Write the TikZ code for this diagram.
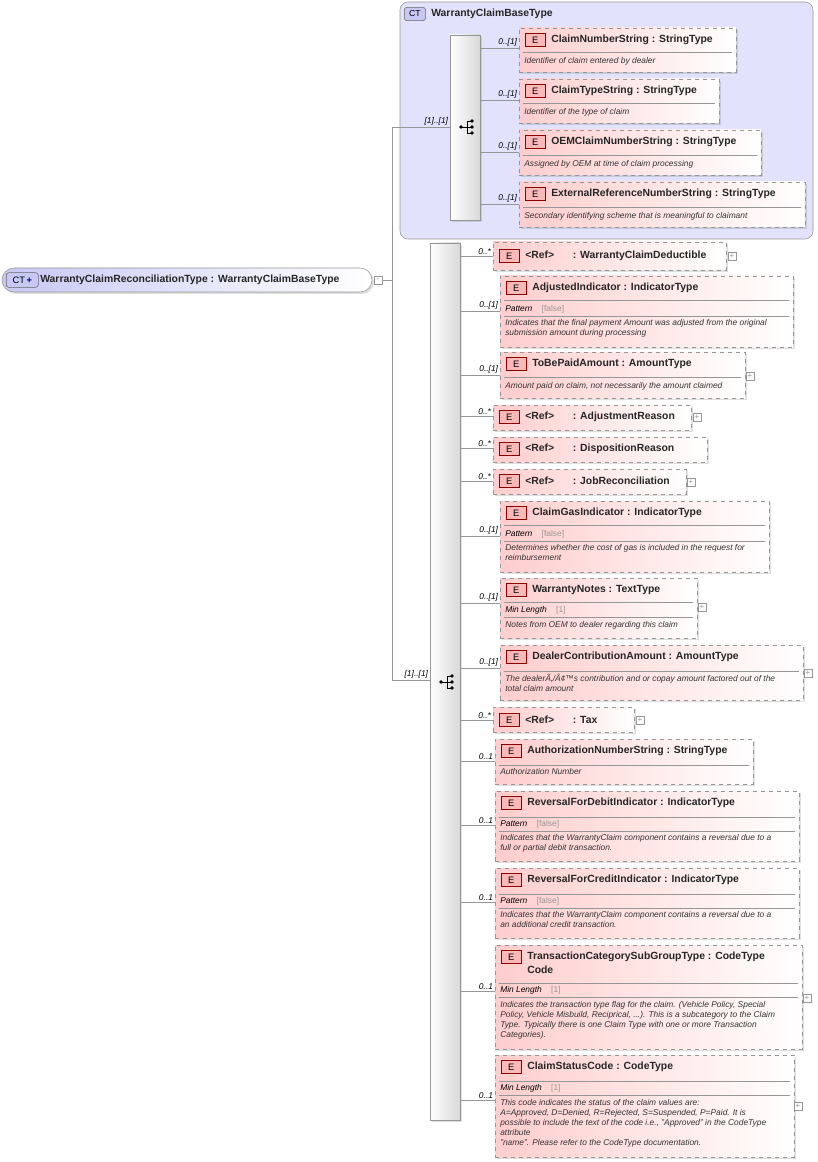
\documentclass[tikz,border=0pt]{standalone}
\usepackage{fontspec}
\setmainfont{Liberation Sans}
\usetikzlibrary{fit,shadows}
\definecolor{epink}{RGB}{255,205,205}
\definecolor{badgef}{RGB}{250,185,185}
\definecolor{lav}{RGB}{226,226,252}
\definecolor{lavd}{RGB}{200,200,245}
\definecolor{lgray}{RGB}{150,150,150}
\tikzset{
 ebox/.style={draw=lgray, dashed, left color=epink, right color=white, inner sep=0pt,
   drop shadow={opacity=0.25, shadow xshift=1.5pt, shadow yshift=-1.5pt}},
 badge/.style={anchor=west, draw=red!55!black, fill=badgef, minimum width=15pt, minimum height=10pt, inner sep=0pt, font=\fontsize{7}{8}\selectfont},
 t/.style={anchor=west, inner sep=0pt, font=\fontsize{7.8}{9}\selectfont\bfseries, text=black!85},
 d/.style={anchor=north west, inner sep=0pt, align=left, font=\fontsize{6.3}{7.6}\selectfont\itshape, text=black!80},
 lab/.style={anchor=south east, inner sep=1pt, font=\fontsize{6.3}{7}\selectfont\itshape},
 conn/.style={draw=lgray, line width=0.6pt},
 sepl/.style={draw=lgray, line width=0.5pt},
 seq/.style={draw=lgray, left color=white, right color=black!15, inner sep=0pt,
   drop shadow={opacity=0.25, shadow xshift=1.5pt, shadow yshift=-1.5pt}},
 pl/.style={draw=lgray, fill=white, minimum size=6pt, inner sep=0pt, font=\fontsize{6}{6}\selectfont, text=lgray},
}
\def\seqx{460}
\newcommand\el[9]{%
 \node[ebox,fit={(#2,#3)(#4,#5)}](#1){};
 \node[badge] (#1e) at (#2+6,#6) {E};
 \node[t] at (#2+32,#6) {#7};
 \coordinate (#1c) at (\seqx,#8);
 \draw[conn] (#1c) -- (#1c -| #1.west) node[lab,pos=1]{#9};}
\newcommand\sepr[2]{\draw[sepl] ([xshift=3pt]#1.west |- 0,#2) -- ([xshift=-3pt]#1.east |- 0,#2);}
\newcommand\facet[4]{\node[anchor=west,inner sep=0pt,font=\fontsize{6.3}{7}\selectfont\itshape] at (#1,#2) {#3\hspace{7pt}\upshape\textcolor{lgray}{[#4]}};}
\newcommand\desc[3]{\node[d] at (#1,#2-4) {#3};}
\newcommand\plusb[3]{\node[pl] (#1) at (#2,#3) {+};}
\newcommand\seqsym[3]{%
 \fill (#2-6,#3) circle (1.8);
 \draw[line width=0.6pt] (#2-6,#3) -- (#2,#3) (#2,#3-6) -- (#2,#3+6) (#2,#3-6) -- (#2+5,#3-6) (#2,#3) -- (#2+5,#3) (#2,#3+6) -- (#2+5,#3+6);
 \fill (#2+5,#3-6) circle (1.8) (#2+5,#3) circle (1.8) (#2+5,#3+6) circle (1.8);}
\begin{document}
\begin{tikzpicture}[x=0.75pt,y=-0.75pt]
\useasboundingbox (0,0) rectangle (817,1162);
% top complex type
\node[draw=lgray, fill=lav, rounded corners=6pt, inner sep=0pt, fit={(400,2)(813,239)}] (ct) {};
\node[draw=black!60, fill=lavd, rounded corners=2pt, anchor=west, minimum width=16pt, minimum height=10pt, inner sep=0pt, font=\fontsize{6.5}{7}\selectfont] (ctb) at (404,14) {CT};
\node[t] at (431,14) {WarrantyClaimBaseType};
\node[seq, fit={(450,35)(480,220)}] (s1) {};
\seqsym{s1}{467}{127}
% root
\node[draw=lgray, left color=lavd, right color=white, rounded corners=9pt, inner sep=0pt, fit={(2,268)(372,292)},
  drop shadow={opacity=0.25, shadow xshift=1.5pt, shadow yshift=-1.5pt}] (root) {};
\node[draw=black!60, fill=lavd, rounded corners=2pt, anchor=west, minimum width=24pt, minimum height=11pt, inner sep=0pt, font=\fontsize{7}{7}\selectfont] (rb) at (6,280) {CT\,\textcolor{blue!50!black}{\bfseries+}};
\node[t] at (40,280) {WarrantyClaimReconciliationType : WarrantyClaimBaseType};
\node[pl] (rm) at (378,280) {-};
\coordinate (j1) at (392,127);
\coordinate (j2) at (392,680);
\draw[conn] (rm.east) -- (rm.east -| j1) (j1) -- (j2);
\draw[conn] (j1) -- (j1 -| s1.west) node[lab,pos=1]{[1]..[1]};
% top children
\def\seqx{480}
\el{a1}{519}{28}{736}{72}{40}{ClaimNumberString : StringType}{48}{0..[1]}
\sepr{a1}{52}\desc{524}{61}{Identifier of claim entered by dealer}
\el{a2}{519}{79}{719}{123}{91}{ClaimTypeString : StringType}{100}{0..[1]}
\sepr{a2}{103}\desc{524}{112}{Identifier of the type of claim}
\el{a3}{519}{130}{761}{175}{142}{OEMClaimNumberString : StringType}{152}{0..[1]}
\sepr{a3}{155}\desc{524}{164}{Assigned by OEM at time of claim processing}
\el{a4}{519}{182}{805}{227}{194}{ExternalReferenceNumberString : StringType}{204}{0..[1]}
\sepr{a4}{207}\desc{524}{216}{Secondary identifying scheme that is meaningful to claimant}
% second sequence
\node[seq, fit={(430,243)(460,1120)}] (s2) {};
\seqsym{s2}{447}{682}
\draw[conn] (j2) -- (j2 -| s2.west) node[lab,pos=1]{[1]..[1]};
\def\seqx{460}
\el{b1}{493}{242}{726}{270}{256}{<Ref>\hspace{14pt}: WarrantyClaimDeductible}{256}{0..*}
\plusb{p1}{732}{256}
\el{b2}{500}{276}{793}{347}{288}{AdjustedIndicator : IndicatorType}{311}{0..[1]}
\sepr{b2}{300}\facet{505}{309}{Pattern}{false}\sepr{b2}{316}
\desc{505}{323}{Indicates that the final payment Amount was adjusted from the original\\submission amount during processing}
\el{b3}{500}{352}{745}{398}{364}{ToBePaidAmount : AmountType}{375}{0..[1]}
\sepr{b3}{377}\desc{505}{386}{Amount paid on claim, not necessarily the amount claimed}
\plusb{p3}{750}{376}
\el{b4}{493}{405}{691}{430}{417}{<Ref>\hspace{14pt}: AdjustmentReason}{416}{0..*}
\plusb{p4}{697}{417}
\el{b5}{493}{437}{707}{462}{449}{<Ref>\hspace{14pt}: DispositionReason}{448}{0..*}
\el{b6}{493}{469}{686}{494}{481}{<Ref>\hspace{14pt}: JobReconciliation}{481}{0..*}
\plusb{p6}{691}{482}
\el{b7}{500}{501}{769}{572}{513}{ClaimGasIndicator : IndicatorType}{536}{0..[1]}
\sepr{b7}{525}\facet{505}{534}{Pattern}{false}\sepr{b7}{541}
\desc{505}{548}{Determines whether the cost of gas is included in the request for\\reimbursement}
\el{b8}{500}{578}{697}{638}{590}{WarrantyNotes : TextType}{603}{0..[1]}
\sepr{b8}{602}\facet{505}{610}{Min Length}{1}\sepr{b8}{617}
\desc{505}{625}{Notes from OEM to dealer regarding this claim}
\plusb{p8}{702}{607}
\el{b9}{500}{645}{803}{700}{657}{DealerContributionAmount : AmountType}{668}{0..[1]}
\sepr{b9}{671}\desc{505}{678}{The dealerÃ‚/Â¢™s contribution and or copay amount factored out of the\\total claim amount}
\plusb{p9}{808}{673}
\el{b10}{493}{707}{634}{732}{720}{<Ref>\hspace{14pt}: Tax}{720}{0..*}
\plusb{p10}{640}{720}
\el{b11}{495}{739}{753}{784}{751}{AuthorizationNumberString : StringType}{761}{0..1}
\sepr{b11}{765}\desc{500}{772}{Authorization Number}
\el{b12}{495}{791}{799}{861}{803}{ReversalForDebitIndicator : IndicatorType}{825}{0..1}
\sepr{b12}{817}\facet{500}{824}{Pattern}{false}\sepr{b12}{831}
\desc{500}{838}{Indicates that the WarrantyClaim component contains a reversal due to a\\full or partial debit transaction.}
\el{b13}{495}{868}{799}{938}{880}{ReversalForCreditIndicator : IndicatorType}{902}{0..1}
\sepr{b13}{894}\facet{500}{901}{Pattern}{false}\sepr{b13}{908}
\desc{500}{915}{Indicates that the WarrantyClaim component contains a reversal due to a\\an additional credit transaction.}
\el{b14}{495}{945}{802}{1049}{957}{TransactionCategorySubGroupType : CodeType}{991}{0..1}
\node[t] at (527,970) {Code};
\sepr{b14}{983}\facet{500}{990}{Min Length}{1}\sepr{b14}{997}
\desc{500}{1005}{Indicates the transaction type flag for the claim. (Vehicle Policy, Special\\Policy, Vehicle Misbuild, Reciprical, ...). This is a subcategory to the Claim\\Type. Typically there is one Claim Type with one or more Transaction\\Categories).}
\plusb{p14}{807}{998}
\el{b15}{495}{1055}{794}{1157}{1067}{ClaimStatusCode : CodeType}{1100}{0..1}
\sepr{b15}{1081}\facet{500}{1088}{Min Length}{1}\sepr{b15}{1095}
\desc{500}{1103}{This code indicates the status of the claim values are:\\A=Approved, D=Denied, R=Rejected, S=Suspended, P=Paid. It is\\possible to include the text of the code i.e., "Approved" in the CodeType\\attribute\\ "name". Please refer to the CodeType documentation.}
\plusb{p15}{798}{1106}
\end{tikzpicture}
\end{document}
